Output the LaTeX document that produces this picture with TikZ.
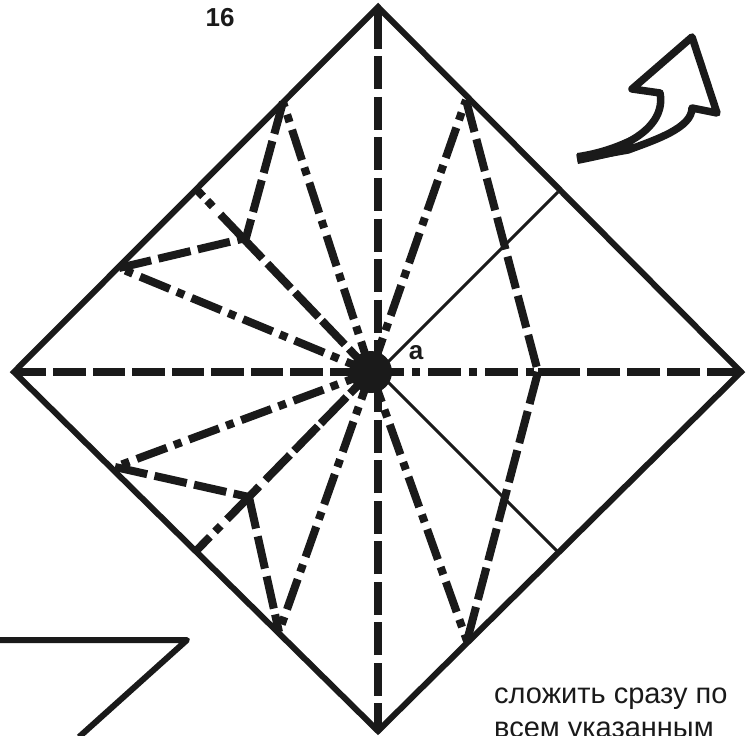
\documentclass[tikz,border=0pt]{standalone}
\usepackage{fontspec}
\setmainfont{Liberation Sans}
\definecolor{ink}{HTML}{1A1A1A}
\tikzset{
  outline/.style={draw=ink,line width=6pt,line join=miter},
  thinfold/.style={draw=ink,line width=3pt},
  crease/.style={draw=ink,line width=8pt},
  valley/.style={crease,dash pattern=on 33pt off 7.5pt},
  mountain/.style={crease,dash pattern=on 32pt off 8pt on 8pt off 7.7pt},
  lbl/.style={inner sep=0pt,text=ink},
  boldlbl/.style={lbl,font=\bfseries\fontsize{26}{28}\selectfont},
  note/.style={lbl,anchor=base west,font=\fontsize{29}{32}\selectfont},
}
\begin{document}
\begin{tikzpicture}[x=1pt,y=-1pt]
\clip (0,0) rectangle (751,735);
\fill[white] (0,0) rectangle (751,735);
% named points
\coordinate (T) at (378,7);
\coordinate (R) at (741,372);
\coordinate (B) at (378,731);
\coordinate (L) at (14,372);
\coordinate (O) at (371,372);
\coordinate (Oc) at (378,372);
\coordinate (UL) at (283,102);
\coordinate (UR) at (466,100);
\coordinate (LLo) at (279,632);
\coordinate (LR) at (467,641);
\coordinate (K) at (538,372);
\coordinate (C1) at (119,268);
\coordinate (D1) at (246,238);
\coordinate (E1) at (197,190);
\coordinate (C2) at (115,467);
\coordinate (D2) at (249,497);
\coordinate (E2) at (197,550);
\coordinate (TF1) at (558,192);
\coordinate (TF2) at (558,552);
\coordinate (Sa) at (0,640);
\coordinate (Sb) at (187,640);
\coordinate (Sc) at (79,737);
% folds
\draw[thinfold] (Oc) -- (TF1);
\draw[thinfold] (Oc) -- (TF2);
\draw[crease,dash pattern=on 42pt off 7.5pt on 33pt off 7.5pt on 33pt off 7.5pt on 33pt off 7.5pt on 33pt off 7.5pt on 33pt off 7.5pt on 33pt off 7.5pt on 33pt off 7.5pt on 50pt] (T) -- (Oc);
\draw[valley,dash phase=5pt] (B) -- (Oc);
\draw[crease,dash pattern=on 32pt off 7pt on 33pt off 7pt] (L) -- (O);
\draw[crease,dash pattern=on 34pt off 7pt on 33pt off 7pt on 33pt off 7pt on 33pt off 7pt on 44pt] (R) -- (K);
\draw[crease,dash pattern=on 33pt off 8pt on 8pt off 8pt] (O) -- (K);
\draw[mountain] (O) -- (UL);
\draw[mountain,dash phase=51.7pt] (O) -- (UR);
\draw[mountain,dash phase=5pt] (O) -- (C1);
\draw[crease,dash pattern=on 32pt off 6pt on 33pt off 5pt on 34pt off 6pt on 34pt off 7pt on 61pt off 11pt on 8pt off 6pt on 20pt] (O) -- (E1);
\draw[mountain,dash phase=5pt] (O) -- (C2);
\draw[crease,dash pattern=on 30pt off 5pt on 37pt off 4pt on 34pt off 6pt on 35pt off 9pt on 46pt off 9pt on 8pt off 7.5pt on 25pt] (O) -- (E2);
\draw[mountain,dash phase=3pt] (O) -- (LLo);
\draw[mountain] (O) -- (LR);
\draw[valley] (UL) -- (D1);
\draw[valley] (C1) -- (D1);
\draw[valley] (UR) -- (K);
\draw[valley] (K) -- (LR);
\draw[valley] (C2) -- (D2);
\draw[crease,dash pattern=on 18pt off 6pt on 33pt off 8pt on 33pt off 8pt on 40pt] (LLo) -- (D2);
\fill[ink] (O) circle (21pt);
% sheet outline
\draw[outline] (T) -- (R) -- (B) -- (L) -- cycle;
% lower-left partial shape
\draw[outline,line join=round] (Sa) -- (Sb) -- (Sc);
% arrow
\draw[draw=ink,line width=7.5pt,line join=round,fill=white]
  (577,158) .. controls (618,152) and (667,130) .. (660,93)
  -- (632,89) -- (692,37) -- (717,113) -- (692,108)
  .. controls (692,128) and (655,140) .. (628,150) -- (577,159);
\fill[ink] (577,153) .. controls (598,150) and (615,144) .. (632,136)
  -- (634,151) .. controls (615,156) and (598,160) .. (578,164) -- cycle;
% labels
\node[boldlbl] (n16) at (220,18) {16};
\node[boldlbl] (na) at (416,353) {a};
\node[note] (t1) at (494,703) {сложить сразу по};
\node[note] (t2) at (494,737) {всем указанным};
\end{tikzpicture}
\end{document}
